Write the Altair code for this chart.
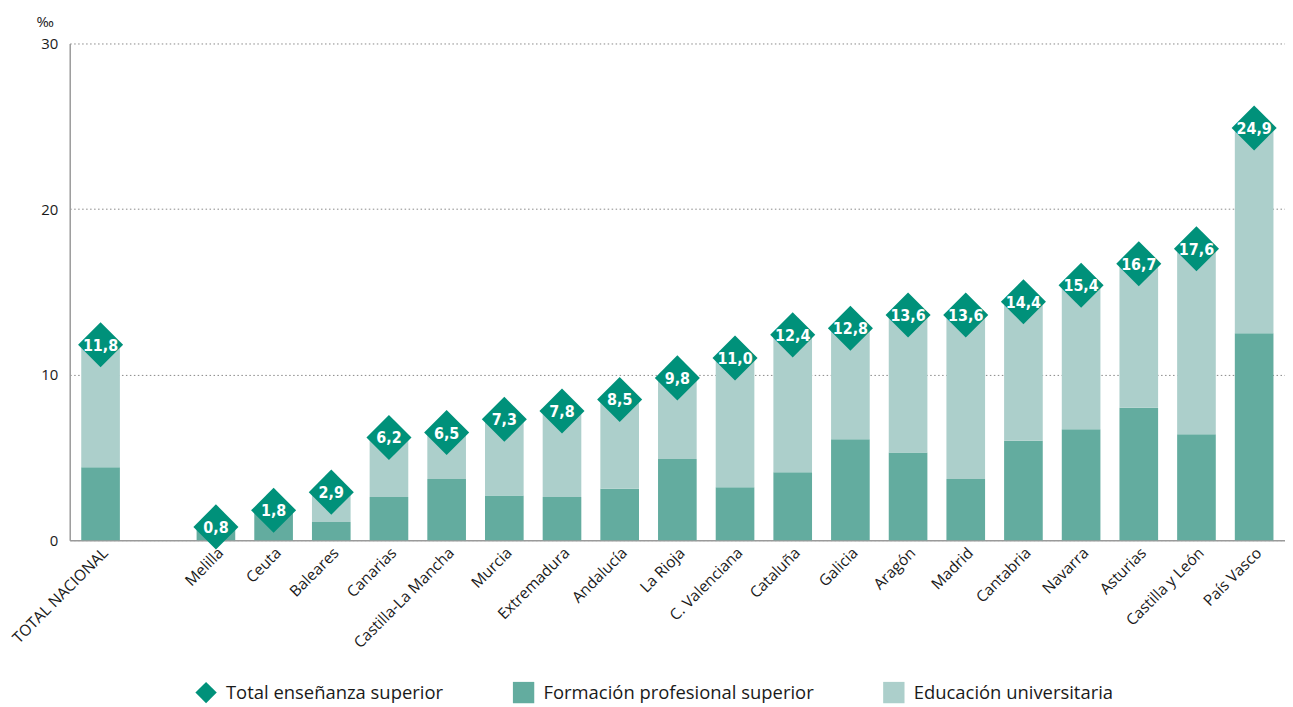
import altair as alt
import pandas as pd

regiones = ["TOTAL NACIONAL", " ", "Melilla", "Ceuta", "Baleares", "Canarias", "Castilla-La Mancha",
            "Murcia", "Extremadura", "Andalucía", "La Rioja", "C. Valenciana", "Cataluña",
            "Galicia", "Aragón", "Madrid", "Cantabria", "Navarra", "Asturias",
            "Castilla y León", "País Vasco"]
cats = [r for r in regiones if r.strip()]
total = [11.8, 0.8, 1.8, 2.9, 6.2, 6.5, 7.3, 7.8, 8.5, 9.8, 11.0, 12.4, 12.8, 13.6, 13.6,
         14.4, 15.4, 16.7, 17.6, 24.9]
fp = [4.4, 0.8, 1.8, 1.1, 2.6, 3.7, 2.7, 2.6, 3.1, 4.9, 3.2, 4.1, 6.1, 5.3, 3.7,
      6.0, 6.7, 8.0, 6.4, 12.5]
univ = [7.4, 0.0, 0.0, 1.8, 3.6, 2.8, 4.6, 5.2, 5.4, 4.9, 7.8, 8.3, 6.7, 8.3, 9.9,
        8.4, 8.7, 8.7, 11.2, 12.4]

S_TOT = "Total enseñanza superior"
S_FP = "Formación profesional superior"
S_UNI = "Educación universitaria"
series = [S_TOT, S_FP, S_UNI]
colors = ["#00917a", "#63ac9f", "#accfcb"]
shapes = ["diamond", "square", "square"]

df = pd.DataFrame({"region": cats, "total": total, S_FP: fp, S_UNI: univ})
df["serie_t"] = S_TOT

FONT = "Open Sans"
NUMFONT = "Liberation Sans Narrow, DejaVu Sans Condensed, Roboto"

x = alt.X("region:N", sort=regiones, scale=alt.Scale(domain=regiones, paddingInner=0.33, paddingOuter=0.2),
          axis=alt.Axis(title=None, labelAngle=315, labelAlign="right", labelBaseline="top",
                        labelFontSize=15.5, labelFont=FONT, labelColor="#1a1a1a", ticks=False,
                        labelPadding=5, domainColor="#9a9a9a", domainWidth=1.5))

color_scale = alt.Scale(domain=series, range=colors)
shape_scale = alt.Scale(domain=series, range=shapes)
legend = alt.Legend(title=None, orient="none", direction="horizontal", legendX=126, legendY=641,
                    labelFontSize=18.5, labelFont=FONT, labelColor="#1a1a1a", symbolSize=460,
                    symbolStrokeWidth=0, labelOffset=9, columnPadding=69, symbolType="square",
                    labelLimit=0)

base = alt.Chart(df)

bars = base.transform_fold([S_FP, S_UNI], as_=["serie", "valor"]).transform_calculate(
    ord=f"datum.serie == '{S_FP}' ? 0 : 1"
).mark_bar().encode(
    x=x,
    y=alt.Y("valor:Q", stack="zero", scale=alt.Scale(domain=[0, 30], nice=False),
            axis=alt.Axis(values=[0, 10, 20, 30], title="‰", titleAngle=0, titleX=-25, titleY=-22,
                          titleAlign="center", titleBaseline="middle", titleFontSize=15,
                          titleFontWeight="normal", titleFont=FONT, titleColor="#1a1a1a",
                          labelFontSize=15, labelFont=FONT, labelColor="#1a1a1a", labelPadding=12,
                          ticks=False, grid=True, gridDash=[1.5, 2.5], gridColor="#888888",
                          gridWidth=1, domainColor="#9a9a9a", domainWidth=1.5)),
    color=alt.Color("serie:N", scale=color_scale, legend=legend),
    order=alt.Order("ord:Q", sort="ascending"),
)

pts = base.mark_point(filled=True, opacity=1, size=2050, strokeWidth=0).encode(
    x=x,
    y=alt.Y("total:Q"),
    color=alt.Color("serie_t:N", scale=color_scale, legend=legend),
    shape=alt.Shape("serie_t:N", scale=shape_scale, legend=legend),
)

txt = base.transform_calculate(
    lab="replace(format(datum.total, '.1f'), '.', ',')"
).mark_text(color="white", fontSize=16, fontWeight="bold", font=NUMFONT, baseline="middle", dy=1).encode(
    x=x,
    y=alt.Y("total:Q"),
    text="lab:N",
)

chart = alt.layer(bars, pts, txt).properties(
    width=1221, height=499,
    autosize=alt.AutoSizeParams(type="none"),
    padding={"left": 62, "top": 34, "right": 0, "bottom": 166},
).configure_view(stroke=None)

chart.save("out.html", embed_options={"renderer": "svg", "actions": False})
